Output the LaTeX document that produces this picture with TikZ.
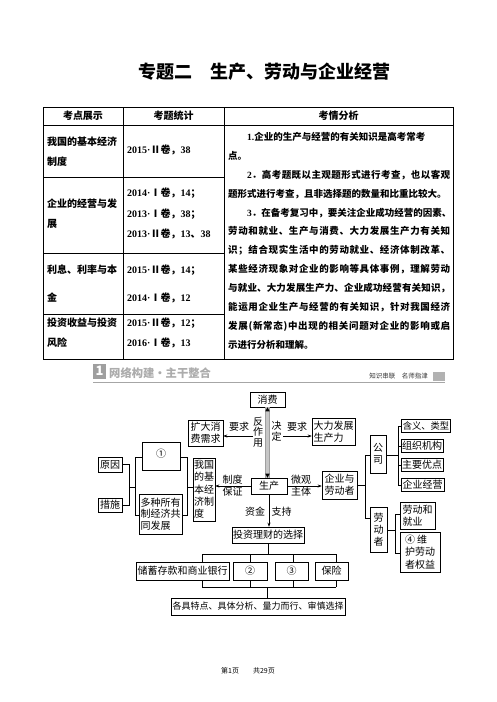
\documentclass[tikz,border=0pt]{standalone}
\usepackage{fontspec}
\setmainfont{Noto Sans CJK SC}
\newfontfamily\tnr{Liberation Serif}
\usetikzlibrary{arrows.meta,calc}
\newcommand\dg{\fontsize{10}{12}\selectfont}
\newcommand\yr[1]{{\tnr #1}}
\def\sprd#1{\spr#1\relax}
\def\spr#1#2{#1\ifx\relax#2\else\hskip0pt plus 1fil\expandafter\spr\expandafter#2\fi}
\newcommand\jl[2]{\hbox to 222pt{#1\sprd{#2}}}
\begin{document}
\begin{tikzpicture}[x=1pt,y=-1pt,
 box/.style={draw, line width=0.55pt, inner sep=1pt, align=left, font=\dg},
 lab/.style={inner sep=0pt, align=center, font=\dg},
 ln/.style={line width=0.5pt},
 arr/.style={line width=0.5pt, -{Stealth[length=4pt,width=3pt]}},
 th/.style={inner sep=0pt, font=\fontsize{10}{12}\selectfont\bfseries},
 td/.style={inner sep=0pt, anchor=west, align=left, font=\fontsize{10}{20}\selectfont\bfseries},
 tdw/.style={inner sep=0pt, anchor=west, align=left, font=\fontsize{10}{28}\selectfont\bfseries}]
\useasboundingbox (0,0) rectangle (496,702);
\fill[white] (0,0) rectangle (496,702);

% title
\node[inner sep=0pt, font=\fontsize{18}{20}\selectfont\bfseries] (title) at (264.5,72) {专题二\quad 生产、劳动与企业经营};

% table
\draw[line width=0.7pt] (43,107) rectangle (453,359);
\draw[line width=0.7pt] (43,125) -- (453,125);
\draw[line width=0.7pt] (123,107) -- (123,359);
\draw[line width=0.7pt] (224,107) -- (224,359);
\draw[line width=0.7pt] (43,177) -- (224,177);
\draw[line width=0.7pt] (43,253) -- (224,253);
\draw[line width=0.7pt] (43,314) -- (224,314);

\node[th] (h1) at (83,116) {考点展示};
\node[th] (h2) at (173.5,116) {考题统计};
\node[th] (h3) at (338.5,116) {考情分析};

\node[td] (r1a) at (47,152) {我国的基本经济\\制度};
\node[td] (r2a) at (47,214) {企业的经营与发\\展};
\node[tdw] (r3a) at (47,284) {利息、利率与本\\金};
\node[td] (r4a) at (47,332.5) {投资收益与投资\\风险};

\node[td] (r1b) at (127,150) {\yr{2015·}Ⅱ卷，\yr{38}};
\node[td, font=\fontsize{10}{20.5}\selectfont\bfseries] (r2b) at (127,213.5) {\yr{2014·}Ⅰ卷，\yr{14}；\\\yr{2013·}Ⅰ卷，\yr{38}；\\\yr{2013·}Ⅱ卷，\yr{13}、\yr{38}};
\node[tdw] (r3b) at (127,284) {\yr{2015·}Ⅱ卷，\yr{14}；\\\yr{2014·}Ⅰ卷，\yr{12}};
\node[td] (r4b) at (127,332.5) {\yr{2015·}Ⅱ卷，\yr{12}；\\\yr{2016·}Ⅰ卷，\yr{13}};

\node[inner sep=0pt, anchor=north west, align=left,
      font=\fontsize{9.5}{18.9}\selectfont\bfseries] (r3c) at (228,132) {%
\hspace*{2em}\yr{1.}企业的生产与经营的有关知识是高考常考\\
点。\\
\jl{\hspace*{2em}\yr{2}}{．高考题既以主观题形式进行考查，也以客观}\\
题形式进行考查，且非选择题的数量和比重比较大。\\
\jl{\hspace*{2em}\yr{3}}{．在备考复习中，要关注企业成功经营的因素、}\\
\jl{}{劳动和就业、生产与消费、大力发展生产力有关知}\\
\jl{}{识；结合现实生活中的劳动就业、经济体制改革、}\\
\jl{}{某些经济现象对企业的影响等具体事例，理解劳动}\\
\jl{}{与就业、大力发展生产力、企业成功经营有关知识，}\\
\jl{}{能运用企业生产与经营的有关知识，针对我国经济}\\
\jl{}{发展(新常态)中出现的相关问题对企业的影响或启}\\
示进行分析和理解。};

% section header
\node[fill=gray!75, text=white, inner sep=0pt, minimum width=13pt, minimum height=15pt, font=\fontsize{13}{13}\selectfont\bfseries] (s1) at (99.5,371) {1};
\node[inner sep=0pt, anchor=west, text=gray!65, font=\fontsize{11.3}{12}\selectfont\bfseries] (s1t) at (109,373.5) {网络构建·主干整合};
\draw[gray!70, line width=0.9pt] (93,382) -- (445,382);
\fill[gray!60] (433,372) rectangle (445,381);
\node[inner sep=0pt, anchor=east, text=black!80, font=\fontsize{6.5}{7}\selectfont] (zs) at (428,376) {知识串联\quad 名师指津};

% diagram boxes
\node[box, minimum width=35pt, minimum height=15pt, align=center] (xf) at (267.5,399.5) {消费};
\node[box, minimum width=35pt, minimum height=26pt] (kd) at (205.5,433) {扩大消\\费需求};
\node[box, minimum width=43pt, minimum height=27pt] (dl) at (333.5,431.5) {大力发展\\生产力};
\node[box, minimum width=36pt, minimum height=16pt, align=center] (sc) at (269,486) {生产};
\node[box, minimum width=22pt, minimum height=63pt, font=\fontsize{10}{12.3}\selectfont] (wg) at (204,489.5) {我国\\的基\\本经\\济制\\度};
\node[box, minimum width=35pt, minimum height=28pt] (qy) at (339.5,485) {企业与\\劳动者};
\node[box, minimum width=70pt, minimum height=16pt, align=center] (tz) at (268,535) {投资理财的选择};
\node[box, minimum width=93pt, minimum height=18pt, align=center] (cx) at (182.5,571) {储蓄存款和商业银行};
\node[box, minimum width=34pt, minimum height=18pt, align=center] (n2) at (250,571) {②};
\node[box, minimum width=33pt, minimum height=18pt, align=center] (n3) at (291.5,571) {③};
\node[box, minimum width=33pt, minimum height=18pt, align=center] (bx) at (331.5,571) {保险};
\node[box, minimum width=174pt, minimum height=17pt, align=center, font=\fontsize{9}{11}\selectfont] (gj) at (258,606.5) {各具特点、具体分析、量力而行、审慎选择};
\node[box, minimum width=24pt, minimum height=15pt, align=center] (yy) at (110,464.5) {原因};
\node[box, minimum width=24pt, minimum height=14pt, align=center] (cs) at (110,505) {措施};
\node[box, minimum width=38pt, minimum height=28pt, align=center, text depth=6pt] (n1) at (161,456) {①};
\node[box, minimum width=43pt, minimum height=40pt, font=\fontsize{10}{11.5}\selectfont] (dz) at (160.5,514) {多种所有\\制经济共\\同发展};
\node[box, minimum width=16pt, minimum height=38pt, align=center] (gs) at (378,454) {公\\司};
\node[box, minimum width=17pt, minimum height=45pt, align=center] (ldz) at (378.5,529.5) {劳\\动\\者};
\node[box, minimum width=48pt, minimum height=13pt, align=center, font=\fontsize{9.3}{11}\selectfont] (hy) at (426,426) {含义、类型};
\node[box, minimum width=40pt, minimum height=13pt, align=center] (zz) at (422,446) {组织机构};
\node[box, minimum width=42pt, minimum height=13pt, align=center] (zy) at (422,465) {主要优点};
\node[box, minimum width=43pt, minimum height=13pt, align=center] (jy) at (422.5,485) {企业经营};
\node[box, minimum width=35pt, minimum height=27pt] (ljy) at (417.5,515.5) {劳动和\\就业};
\node[box, minimum width=40pt, minimum height=40pt, font=\fontsize{10}{12.5}\selectfont] (wh) at (420,552) {④ 维\\护劳动\\者权益};

% labels
\node[lab] (yq1) at (239,427) {要求};
\node[lab] (yq2) at (297,427) {要求};
\node[lab, font=\fontsize{10}{10.5}\selectfont] (fzy) at (258,432) {反\\作\\用};
\node[lab, font=\fontsize{10}{11}\selectfont] (jd) at (276.5,431) {决\\定};
\node[lab] (zdbz) at (232.5,486) {制度\\保证};
\node[lab] (wgzt) at (301,486) {微观\\主体};
\node[lab] (zj) at (255,512) {资金};
\node[lab] (zc) at (281.5,512) {支持};

% thick gray link between 消费 and 生产
\coordinate (gt) at (xf.south);
\coordinate (gbm) at (xf.south |- sc.north);
\draw[gray!45, line width=4pt] (gt) -- (gbm);
\draw[gray!75, line width=0.3pt] ($(gt)+(-2,0)$) -- ($(gbm)+(-2,0)$) ($(gt)+(2,0)$) -- ($(gbm)+(2,0)$);
\fill[black] (gt) -- ++(-2.2,4) -- ++(4.4,0) -- cycle;
\fill[black] (gbm) -- ++(-2.2,-4) -- ++(4.4,0) -- cycle;

% arrows next to the gray link
\coordinate (ga) at (253,436);
\coordinate (gb) at (283,436);
\draw[arr] (ga) -- (ga -| kd.east);
\draw[arr] (gb) -- (gb -| dl.west);
\draw[arr] (sc.west) -- (sc.west -| wg.east);
\draw[arr] (sc.east) -- (sc.east -| qy.west);
\draw[arr] (sc.south) -- (sc.south |- tz.north);

% left tree
\coordinate (la) at (129,464.5);
\coordinate (lb) at (129,505);
\coordinate (lm) at (129,487);
\coordinate (lc) at (135,487);
\coordinate (lt) at (135,457);
\coordinate (lbt) at (135,515);
\coordinate (rt) at (187,457);
\coordinate (rb) at (187,515);
\coordinate (rm) at (187,487);
\draw[ln] (yy.east) -- (la) -- (lb) -- (cs.east);
\draw[ln] (lm) -- (lc);
\draw[ln] (n1.west |- lt) -- (lt) -- (lbt) -- (dz.west |- lbt);
\draw[ln] (n1.east |- rt) -- (rt) -- (rb) -- (dz.east |- rb);
\draw[ln] (rm) -- (rm -| wg.west);

% right tree
\coordinate (qa) at (365,455);
\coordinate (qb) at (365,518);
\coordinate (qm) at (qy.east -| qa);
\draw[ln] (qy.east) -- (qm);
\draw[ln] (gs.west |- qa) -- (qa) -- (qb) -- (qb -| ldz.west);
\coordinate (ga1) at (398,455);
\coordinate (gtp) at (398,426);
\coordinate (gbt) at (398,485);
\draw[ln] (gs.east |- ga1) -- (ga1);
\draw[ln] (hy.west) -- (gtp) -- (gbt) -- (jy.west);
\draw[ln] (zz.west) -- (zz.west -| gtp);
\draw[ln] (zy.west) -- (zy.west -| gtp);
\coordinate (la1) at (395,530);
\coordinate (ltp) at (395,514);
\coordinate (lbt2) at (395,553);
\draw[ln] (ldz.east |- la1) -- (la1);
\draw[ln] (ljy.west |- ltp) -- (ltp) -- (lbt2) -- (wh.west |- lbt2);

% bottom tree
\coordinate (bt) at (268,554);
\coordinate (b1) at (202,554);
\coordinate (b4) at (336,554);
\coordinate (c1) at (202,587);
\coordinate (c4) at (336,587);
\coordinate (cm) at (267,587);
\draw[ln] (tz.south) -- (bt);
\draw[ln] (b1) -- (b4);
\draw[ln] (c1) -- (c4);
\draw[ln] (b1) -- (b1 |- cx.north) (cx.south -| c1) -- (c1);
\draw[ln] (250,554) -- (n2.north) (n2.south) -- (250,587);
\draw[ln] (293,554) -- (293,562) (293,580) -- (293,587);
\draw[ln] (b4) -- (336,562) (336,580) -- (c4);
\draw[ln] (cm) -- (cm |- gj.north);

% footer
\node[inner sep=0pt, font=\fontsize{7}{8}\selectfont] (ft) at (248,671) {第1页\quad\quad 共29页};
\end{tikzpicture}
\end{document}
